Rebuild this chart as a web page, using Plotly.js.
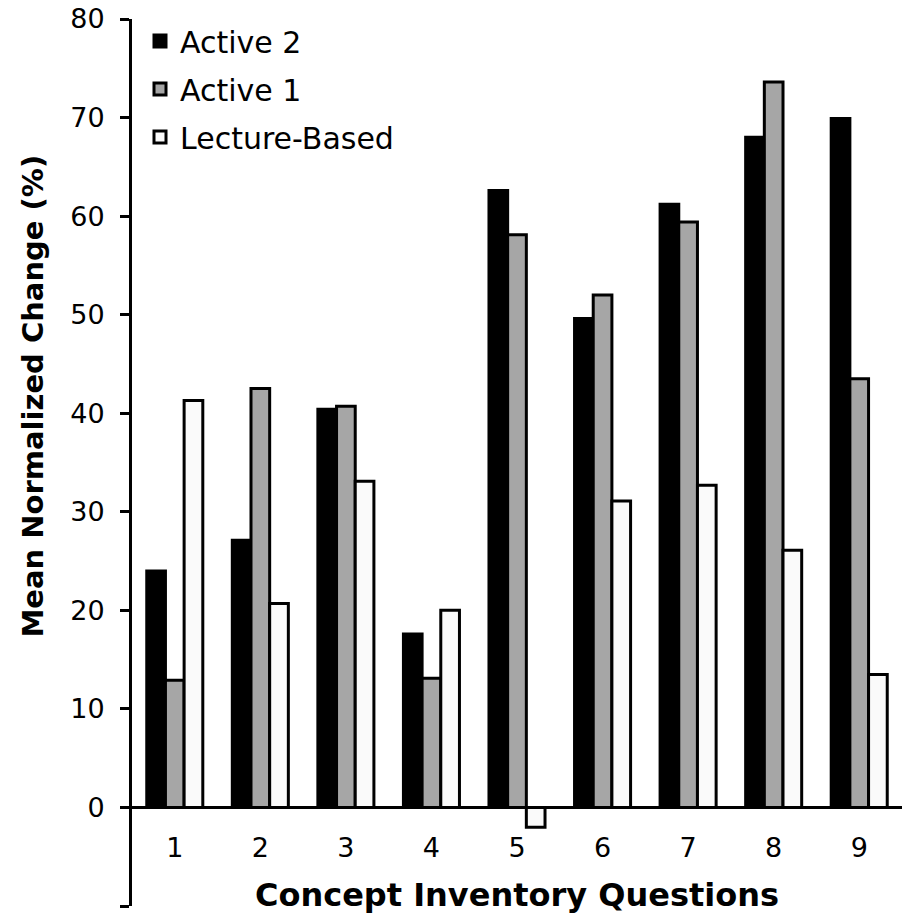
<!DOCTYPE html>
<html>
<head>
<meta charset="utf-8">
<script src="https://cdn.plot.ly/plotly-3.0.1.min.js"></script>
<style>
  html, body { margin: 0; padding: 0; background: #ffffff; }
  #chart { width: 909px; height: 919px; }
</style>
</head>
<body>
<div id="chart"></div>
<script>
// ---- data ----
const questions = ['1', '2', '3', '4', '5', '6', '7', '8', '9'];
const active2 = [24.0, 27.1, 40.4, 17.6, 62.6, 49.6, 61.2, 68.0, 69.9];
const active1 = [12.9, 42.5, 40.7, 13.1, 58.1, 52.0, 59.4, 73.6, 43.5];
const lectureBased = [41.3, 20.7, 33.1, 20.0, -2.0, 31.1, 32.7, 26.1, 13.5];
const seriesNames = ['Active 2', 'Active 1', 'Lecture-Based'];
const yTickVals = [-10, 0, 10, 20, 30, 40, 50, 60, 70, 80];

const FONT = 'DejaVu Sans, sans-serif';
const fills = ['#000000', '#a6a6a6', '#fafafa'];
const series = [active2, active1, lectureBased];

const traces = series.map((vals, i) => ({
  type: 'bar',
  name: seriesNames[i],
  x: questions,
  y: vals,
  legendgroup: 'g' + i,
  marker: { color: fills[i], line: { color: '#000000', width: 3 } },
  hoverinfo: 'x+y+name'
}));

const layout = {
  width: 909,
  height: 919,
  margin: { l: 132, r: 7, t: 19, b: 13 },
  paper_bgcolor: '#ffffff',
  plot_bgcolor: 'rgba(0,0,0,0)',
  font: { family: FONT, color: '#000000', size: 27 },
  barmode: 'group',
  bargap: 0.345,
  bargroupgap: 0,
  showlegend: true,
  legend: {
    x: 8 / 770, y: 1 + 4 / 887, xanchor: 'left', yanchor: 'top',
    bgcolor: 'rgba(0,0,0,0)',
    font: { family: FONT, size: 30, color: '#000000' },
    traceorder: 'grouped',
    tracegroupgap: 6
  },
  xaxis: {
    type: 'category',
    anchor: 'free',
    position: 10 / 90,
    showline: true, linecolor: '#000000', linewidth: 3,
    ticks: '', showgrid: false, zeroline: false,
    tickfont: { family: FONT, size: 27, color: '#000000' },
    ticklabelstandoff: 15,
    title: { text: 'Concept Inventory Questions', font: { family: FONT, size: 32, color: '#000000', weight: 'bold' }, standoff: 21 }
  },
  yaxis: {
    range: [-10, 80],
    tickvals: yTickVals,
    showline: true, linecolor: '#000000', linewidth: 3,
    ticks: 'outside', ticklen: 9, tickwidth: 3, tickcolor: '#000000',
    showgrid: false, zeroline: false,
    tickfont: { family: FONT, size: 27, color: '#000000' },
    ticklabelstandoff: 10
  },
  annotations: [{
    text: 'Mean Normalized Change (%)',
    xref: 'paper', yref: 'paper',
    x: -100 / 770, y: (906 - 396.5) / 887,
    xanchor: 'center', yanchor: 'middle',
    textangle: -90, showarrow: false,
    font: { family: FONT, size: 29, color: '#000000', weight: 'bold' }
  }]
};

Plotly.newPlot('chart', traces, layout, { displayModeBar: false, staticPlot: true });
</script>
</body>
</html>
